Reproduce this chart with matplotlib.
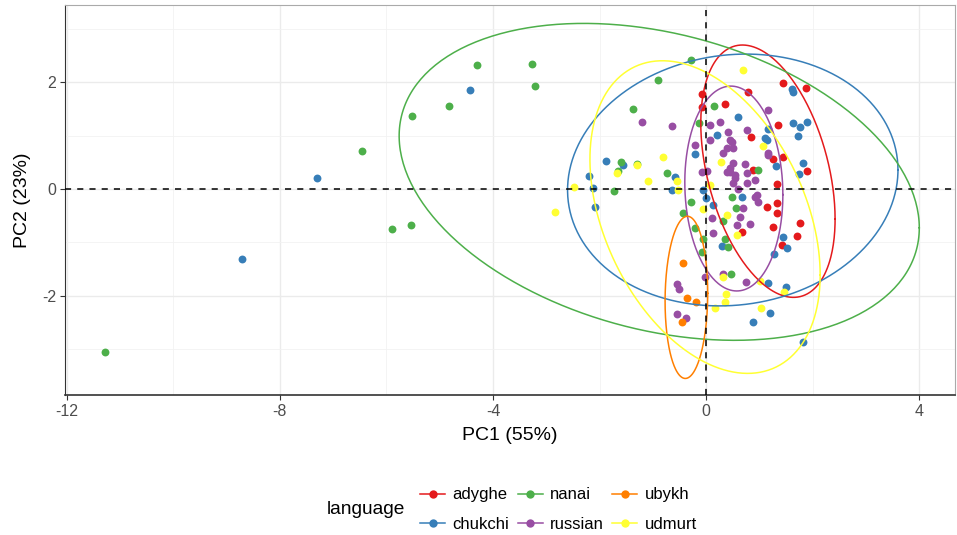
import numpy as np
import matplotlib
matplotlib.use("Agg")
import matplotlib.pyplot as plt
from matplotlib.lines import Line2D

plt.rcParams['font.family'] = ['Liberation Sans', 'DejaVu Sans']
plt.rcParams['axes.unicode_minus'] = False

# PCA scores, one list per language
languages = ['adyghe', 'chukchi', 'nanai', 'russian', 'ubykh', 'udmurt']
colors = ['#E41A1C', '#377EB8', '#4DAF4A', '#984EA3', '#FF7F00', '#FFFF33']

adyghe = [(-0.08, 1.78), (-0.08, 1.54), (1.44, 1.99), (1.88, 1.90), (0.79, 1.82),
          (0.36, 1.59), (1.35, 1.20), (0.84, 0.98), (0.88, 0.36), (1.26, 0.56),
          (1.44, 0.60), (1.89, 0.34), (1.33, 0.09), (1.33, -0.26), (1.14, -0.34),
          (1.33, -0.45), (1.26, -0.71), (1.76, -0.64), (0.68, -0.81), (1.71, -0.88),
          (1.43, -1.05)]
chukchi = [(-8.71, -1.31), (-7.30, 0.21), (-4.43, 1.86), (1.61, 1.88), (1.63, 1.82),
           (0.60, 1.35), (1.63, 1.24), (1.76, 1.16), (1.89, 1.26), (1.73, 0.99),
           (1.16, 1.13), (1.11, 0.96), (0.21, 1.01), (-1.88, 0.53), (-1.56, 0.45),
           (-2.20, 0.24), (-0.58, 0.23), (-2.12, 0.02), (-0.64, -0.02), (-2.08, -0.34),
           (-0.21, 0.66), (-0.06, -0.02), (0.00, -0.17), (1.31, 0.43), (1.82, 0.49),
           (1.74, 0.28), (0.68, -0.15), (0.13, -0.30), (1.44, -0.90), (0.30, -1.07),
           (1.52, -1.11), (1.28, -1.22), (1.16, -1.76), (1.50, -1.84), (1.20, -2.33),
           (0.88, -2.50), (1.82, -2.87), (1.14, 0.92)]
nanai = [(-11.28, -3.06), (-6.45, 0.71), (-5.89, -0.75), (-5.53, -0.68), (-5.51, 1.37),
         (-4.82, 1.56), (-4.30, 2.33), (-3.26, 2.35), (-3.21, 1.93), (-0.28, 2.42),
         (-0.90, 2.05), (-1.37, 1.50), (-0.13, 1.24), (0.15, 1.56), (-1.59, 0.51),
         (-0.73, 0.30), (-1.73, -0.04), (-0.28, -0.24), (-0.43, -0.45), (-0.21, -0.73),
         (-0.06, -0.94), (-0.08, -1.18), (0.98, 0.36), (0.49, -0.15), (0.56, -0.36),
         (0.32, -0.60), (0.36, -0.94), (0.41, -1.09), (0.47, -1.59), (-1.65, 0.34),
         (-1.29, 0.47)]
russian = [(-1.20, 1.26), (-0.64, 1.18), (-0.21, 0.83), (1.16, 1.48), (0.26, 1.26),
           (0.08, 1.20), (0.41, 1.07), (0.77, 1.11), (0.49, 0.88), (0.39, 0.77),
           (0.51, 0.77), (0.08, 0.92), (1.16, 0.68), (-0.08, 0.32), (0.32, 0.68),
           (0.51, 0.49), (0.73, 0.47), (0.02, 0.34), (0.45, 0.32), (0.54, 0.26),
           (0.92, 0.17), (0.77, 0.11), (1.16, 0.64), (0.92, -0.15), (0.98, -0.24),
           (0.69, -0.36), (0.64, -0.53), (0.11, -0.54), (0.83, -0.66), (0.58, -0.68),
           (0.13, -0.83), (-0.02, -1.65), (0.32, -1.59), (0.75, -1.74), (-0.54, -1.78),
           (-0.51, -1.88), (-0.54, -2.35), (-0.38, -2.42), (0.45, 0.92), (0.45, 0.39),
           (0.77, 0.30), (0.96, -0.11), (0.51, 0.11), (0.39, 0.32), (0.60, 0.00),
           (0.55, 0.20)]
ubykh = [(-0.43, -1.39), (-0.36, -2.04), (-0.19, -2.12), (-0.45, -2.50)]
udmurt = [(-2.83, -0.43), (0.69, 2.23), (1.07, 0.81), (-0.81, 0.60), (-1.67, 0.30),
          (-1.29, 0.45), (-1.09, 0.15), (-0.54, 0.15), (-2.48, 0.04), (-0.53, -0.02),
          (-0.06, -0.38), (0.28, 0.51), (0.08, 0.08), (0.39, -0.49), (0.58, -0.86),
          (0.32, -1.65), (1.01, -1.73), (1.46, -1.93), (0.38, -1.97), (0.36, -2.12),
          (0.17, -2.23), (1.03, -2.23)]

# ellipses: centre x, centre y, x half-extent, y half-extent, correlation
ellipses = {
    'adyghe': (1.16, 0.335, 1.26, 2.365, -0.38),
    'chukchi': (0.50, 0.17, 3.10, 2.36, 0.08),
    'nanai': (-0.88, 0.135, 4.88, 2.97, -0.29),
    'russian': (0.52, 0.01, 0.92, 1.92, -0.06),
    'ubykh': (-0.37, -2.03, 0.40, 1.52, 0.05),
    'udmurt': (-0.02, -0.525, 2.16, 2.93, -0.37),
}

scores = [adyghe, chukchi, nanai, russian, ubykh, udmurt]


def ellipse_path(cx, cy, rx, ry, rho, n=300):
    cov = np.array([[rx ** 2, rho * rx * ry], [rho * rx * ry, ry ** 2]])
    L = np.linalg.cholesky(cov)
    t = np.linspace(0, 2 * np.pi, n)
    pts = L @ np.vstack([np.cos(t), np.sin(t)])
    return pts[0] + cx, pts[1] + cy


fig = plt.figure(figsize=(9.57, 5.35), dpi=100)
ax = fig.add_axes([65 / 957, 1 - 395 / 535, 890 / 957, 390 / 535])

for lang, col, pts in zip(languages, colors, scores):
    xy = np.array(pts)
    ax.scatter(xy[:, 0], xy[:, 1], s=32, color=col, linewidths=0, zorder=3)

for lang, col in zip(languages, colors):
    ex, ey = ellipse_path(*ellipses[lang])
    ax.plot(ex, ey, color=col, lw=1.1, zorder=4)

ax.axhline(0, color='black', lw=1.1, ls=(0, (4, 4)), zorder=5)
ax.axvline(0, color='black', lw=1.1, ls=(0, (4, 4)), zorder=5)

ax.set_xlim(-12.03, 4.67)
ax.set_ylim(-3.86, 3.45)
ax.set_xticks([-12, -8, -4, 0, 4])
ax.set_yticks([-2, 0, 2])
ax.set_xticks([-10, -6, -2, 2], minor=True)
ax.set_yticks([-3, -1, 1, 3], minor=True)
ax.grid(True, which='major', color='#EBEBEB', lw=1.0, zorder=0)
ax.grid(True, which='minor', color='#F2F2F2', lw=0.6, zorder=0)
ax.set_axisbelow(True)
ax.tick_params(which='major', length=3.5, width=0.8, color='#333333',
               labelcolor='#4D4D4D', labelsize=11.5, pad=3)
ax.tick_params(which='minor', length=0)
for side in ['top', 'right', 'left', 'bottom']:
    ax.spines[side].set_color('#333333')
    ax.spines[side].set_linewidth(0.8)
ax.spines['top'].set_color('#AAAAAA')
ax.spines['right'].set_color('#AAAAAA')
ax.spines['bottom'].set_linewidth(1.2)

ax.set_xlabel('PC1 (55%)', fontsize=14, labelpad=6)
ax.set_ylabel('PC2 (23%)', fontsize=14, labelpad=8)

handles = [Line2D([0], [0], color=c, lw=1.1, marker='o', markersize=6,
                  markeredgewidth=0) for c in colors]
fig.text(327 / 957, 1 - 510 / 535, 'language', fontsize=13.8, ha='left', va='center')
fig.legend(handles, languages, ncol=3, loc='center left',
           bbox_to_anchor=(405 / 957, 1 - 509.5 / 535), frameon=False,
           fontsize=12, handlelength=1.5, handletextpad=0.45, columnspacing=0.5,
           labelspacing=0.85)

fig.savefig('out.png', dpi=100)
